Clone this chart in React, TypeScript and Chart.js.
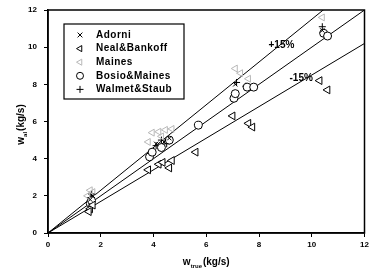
import React, { useEffect, useRef } from "react";
import { Chart, registerables } from "chart.js";

Chart.register(...registerables);

type P = { x: number; y: number };

const xTicks = [0, 2, 4, 6, 8, 10, 12];
const yTicks = [0, 2, 4, 6, 8, 10, 12];

const adorni: P[] = [
  { x: 1.6, y: 1.8 }, { x: 1.7, y: 2.0 }, { x: 4.1, y: 4.8 }, { x: 4.4, y: 4.9 },
  { x: 4.6, y: 5.1 }, { x: 7.1, y: 8.0 }, { x: 10.4, y: 10.9 },
];
const nealBankoff: P[] = [
  { x: 1.6, y: 1.3 }, { x: 1.55, y: 1.15 }, { x: 1.7, y: 1.5 }, { x: 3.8, y: 3.4 },
  { x: 4.2, y: 3.7 }, { x: 4.35, y: 3.8 }, { x: 4.6, y: 3.5 }, { x: 4.7, y: 3.9 },
  { x: 5.6, y: 4.35 }, { x: 7.0, y: 6.3 }, { x: 7.6, y: 5.9 }, { x: 7.75, y: 5.7 },
  { x: 10.3, y: 8.2 }, { x: 10.6, y: 7.7 },
];
const maines: P[] = [
  { x: 1.6, y: 2.3 }, { x: 1.7, y: 2.2 }, { x: 1.5, y: 2.0 }, { x: 3.8, y: 4.9 },
  { x: 3.95, y: 5.4 }, { x: 4.2, y: 5.45 }, { x: 4.45, y: 5.55 }, { x: 4.7, y: 5.6 },
  { x: 4.3, y: 5.2 }, { x: 7.1, y: 8.85 }, { x: 7.6, y: 8.3 }, { x: 7.3, y: 8.6 },
  { x: 10.4, y: 11.6 },
];
const bosioMaines: P[] = [
  { x: 1.6, y: 1.6 }, { x: 1.65, y: 1.75 }, { x: 3.85, y: 4.1 }, { x: 3.95, y: 4.35 },
  { x: 4.3, y: 4.6 }, { x: 4.6, y: 5.0 }, { x: 5.7, y: 5.8 }, { x: 7.05, y: 7.25 },
  { x: 7.1, y: 7.5 }, { x: 7.55, y: 7.85 }, { x: 7.8, y: 7.85 }, { x: 10.45, y: 10.75 },
  { x: 10.6, y: 10.6 },
];
const walmetStaub: P[] = [
  { x: 1.6, y: 1.9 }, { x: 1.65, y: 2.1 }, { x: 4.1, y: 4.7 }, { x: 4.3, y: 5.0 },
  { x: 4.5, y: 4.8 }, { x: 7.15, y: 8.1 }, { x: 7.5, y: 7.9 }, { x: 10.4, y: 11.1 },
];

const lineSlopes = [1.0, 1.15, 0.85];
const lineMaxX = 12;
const annotations = [
  { text: "+15%", x: 8.85, y: 10.1 },
  { text: "-15%", x: 9.6, y: 8.35 },
];

const FONT = "'Liberation Sans', Arial, sans-serif";

const markerDatasets = [
  { label: "Adorni", data: adorni, pointStyle: "crossRot", pointRadius: 3, borderColor: "#000", backgroundColor: "#000", rotation: 0 },
  { label: "Neal&Bankoff", data: nealBankoff, pointStyle: "triangle", pointRadius: 4.5, borderColor: "#000", backgroundColor: "#fff", rotation: -90 },
  { label: "Maines", data: maines, pointStyle: "triangle", pointRadius: 4, borderColor: "#b8b8b8", backgroundColor: "rgba(255,255,255,0)", rotation: -90 },
  { label: "Bosio&Maines", data: bosioMaines, pointStyle: "circle", pointRadius: 4, borderColor: "#000", backgroundColor: "#fff", rotation: 0 },
  { label: "Walmet&Staub", data: walmetStaub, pointStyle: "cross", pointRadius: 3.5, borderColor: "#000", backgroundColor: "#000", rotation: 0 },
];

function drawMarker(ctx: CanvasRenderingContext2D, style: string, r: number, rot: number, x: number, y: number, stroke: string, fill: string) {
  ctx.save();
  ctx.translate(x, y);
  ctx.rotate((rot * Math.PI) / 180);
  ctx.strokeStyle = stroke;
  ctx.fillStyle = fill;
  ctx.lineWidth = 1;
  ctx.beginPath();
  if (style === "crossRot") {
    const d = r * 0.8;
    ctx.moveTo(-d, -d); ctx.lineTo(d, d); ctx.moveTo(d, -d); ctx.lineTo(-d, d);
    ctx.stroke();
  } else if (style === "cross") {
    ctx.moveTo(-r, 0); ctx.lineTo(r, 0); ctx.moveTo(0, -r); ctx.lineTo(0, r);
    ctx.stroke();
  } else if (style === "circle") {
    ctx.arc(0, 0, r, 0, Math.PI * 2);
    ctx.fill(); ctx.stroke();
  } else if (style === "triangle") {
    ctx.moveTo(0, -r);
    ctx.lineTo(r * 0.87, r * 0.5);
    ctx.lineTo(-r * 0.87, r * 0.5);
    ctx.closePath();
    ctx.fill(); ctx.stroke();
  }
  ctx.restore();
}

const decorPlugin = {
  id: "decor",
  afterDraw(chart: any) {
    const ctx = chart.ctx as CanvasRenderingContext2D;
    const area = chart.chartArea;
    const xs = chart.scales.x;
    const ys = chart.scales.y;
    ctx.save();
    ctx.strokeStyle = "#000";
    ctx.lineWidth = 1.5;
    ctx.strokeRect(area.left, area.top, area.right - area.left, area.bottom - area.top);

    ctx.fillStyle = "#000";
    ctx.font = `bold 10px ${FONT}`;
    ctx.textAlign = "center";
    ctx.textBaseline = "middle";
    annotations.forEach((a) => {
      ctx.fillText(a.text, xs.getPixelForValue(a.x), ys.getPixelForValue(a.y));
    });

    const lx = 64, ly = 24, lw = 120, lh = 75;
    ctx.lineWidth = 1.2;
    ctx.fillStyle = "#fff";
    ctx.fillRect(lx, ly, lw, lh);
    ctx.strokeStyle = "#000";
    ctx.strokeRect(lx, ly, lw, lh);
    (ctx as any).letterSpacing = "0.5px";
    markerDatasets.forEach((ds, i) => {
      const cy = 35 + i * 13.6;
      drawMarker(ctx, ds.pointStyle, Math.min(ds.pointRadius, 3.5), ds.rotation, 80, cy, ds.borderColor, ds.backgroundColor);
      ctx.fillStyle = "#000";
      ctx.font = `bold 10px ${FONT}`;
      ctx.textAlign = "left";
      ctx.textBaseline = "middle";
      ctx.fillText(ds.label, 96, cy);
    });
    (ctx as any).letterSpacing = "0px";

    const drawTitle = (main: string, sub: string, rest: string) => {
      ctx.font = `bold 10px ${FONT}`;
      const w1 = ctx.measureText(main).width;
      ctx.font = `bold 6px ${FONT}`;
      const w2 = ctx.measureText(sub).width;
      ctx.font = `bold 10px ${FONT}`;
      const w3 = ctx.measureText(rest).width;
      const total = w1 + w2 + w3 + 1;
      let x = -total / 2;
      ctx.textAlign = "left";
      ctx.textBaseline = "middle";
      ctx.fillStyle = "#000";
      ctx.font = `bold 10px ${FONT}`;
      ctx.fillText(main, x, 0);
      x += w1;
      ctx.font = `bold 6px ${FONT}`;
      ctx.fillText(sub, x, 4);
      x += w2 + 1;
      ctx.font = `bold 10px ${FONT}`;
      ctx.fillText(rest, x, 0);
    };
    ctx.save();
    ctx.translate((area.left + area.right) / 2, 262);
    drawTitle("w", "true", "(kg/s)");
    ctx.restore();
    ctx.save();
    ctx.translate(21, (area.top + area.bottom) / 2 + 3);
    ctx.rotate(-Math.PI / 2);
    drawTitle("w", "al", "(kg/s)");
    ctx.restore();

    ctx.restore();
  },
};

export default function App() {
  const ref = useRef<HTMLCanvasElement | null>(null);

  useEffect(() => {
    document.body.style.margin = "0";
    if (!ref.current) return;

    const lineDatasets = lineSlopes.map((k) => ({
      label: "",
      type: "line" as const,
      data: [
        { x: 0, y: 0 },
        { x: lineMaxX, y: lineMaxX * k },
      ],
      borderColor: "#000",
      borderWidth: 1,
      pointRadius: 0,
      fill: false,
      showLine: true,
    }));

    const chart = new Chart(ref.current, {
      type: "scatter",
      data: {
        datasets: [
          ...markerDatasets.map((d) => ({
            label: d.label,
            data: d.data,
            pointStyle: d.pointStyle,
            pointRadius: d.pointRadius,
            borderColor: d.borderColor,
            backgroundColor: d.backgroundColor,
            borderWidth: 1,
            rotation: d.rotation,
          })),
          ...lineDatasets,
        ] as any,
      },
      plugins: [decorPlugin],
      options: {
        responsive: false,
        animation: false,
        devicePixelRatio: 1,
        layout: { padding: { left: 0, top: 10, right: 1, bottom: 0 } },
        plugins: {
          legend: { display: false },
          tooltip: { enabled: false },
        },
        scales: {
          x: {
            type: "linear",
            min: 0,
            max: 12,
            afterBuildTicks: (s: any) => {
              s.ticks = xTicks.map((v) => ({ value: v }));
            },
            afterFit: (s: any) => {
              s.height = 40;
              s.paddingLeft = 0;
              s.paddingRight = 0;
            },
            ticks: {
              color: "#000",
              font: { family: FONT, size: 8, weight: "bold" },
              padding: 3,
              maxRotation: 0,
            },
            grid: { drawOnChartArea: false, drawTicks: true, tickLength: 4, color: "#000" },
            border: { display: true, color: "#000", width: 1.5 },
          },
          y: {
            type: "linear",
            min: 0,
            max: 12,
            afterBuildTicks: (s: any) => {
              s.ticks = yTicks.map((v) => ({ value: v }));
            },
            afterFit: (s: any) => {
              s.width = 48;
              s.paddingTop = 0;
              s.paddingBottom = 0;
            },
            ticks: {
              color: "#000",
              font: { family: FONT, size: 8, weight: "bold" },
              padding: 7,
            },
            grid: { drawOnChartArea: false, drawTicks: true, tickLength: 4, color: "#000" },
            border: { display: true, color: "#000", width: 1.5 },
          },
        },
      } as any,
    });
    return () => chart.destroy();
  }, []);

  return (
    <div style={{ width: 370, height: 273, position: "relative", background: "#fff" }}>
      <canvas ref={ref} width={370} height={273} style={{ display: "block" }} />
    </div>
  );
}
